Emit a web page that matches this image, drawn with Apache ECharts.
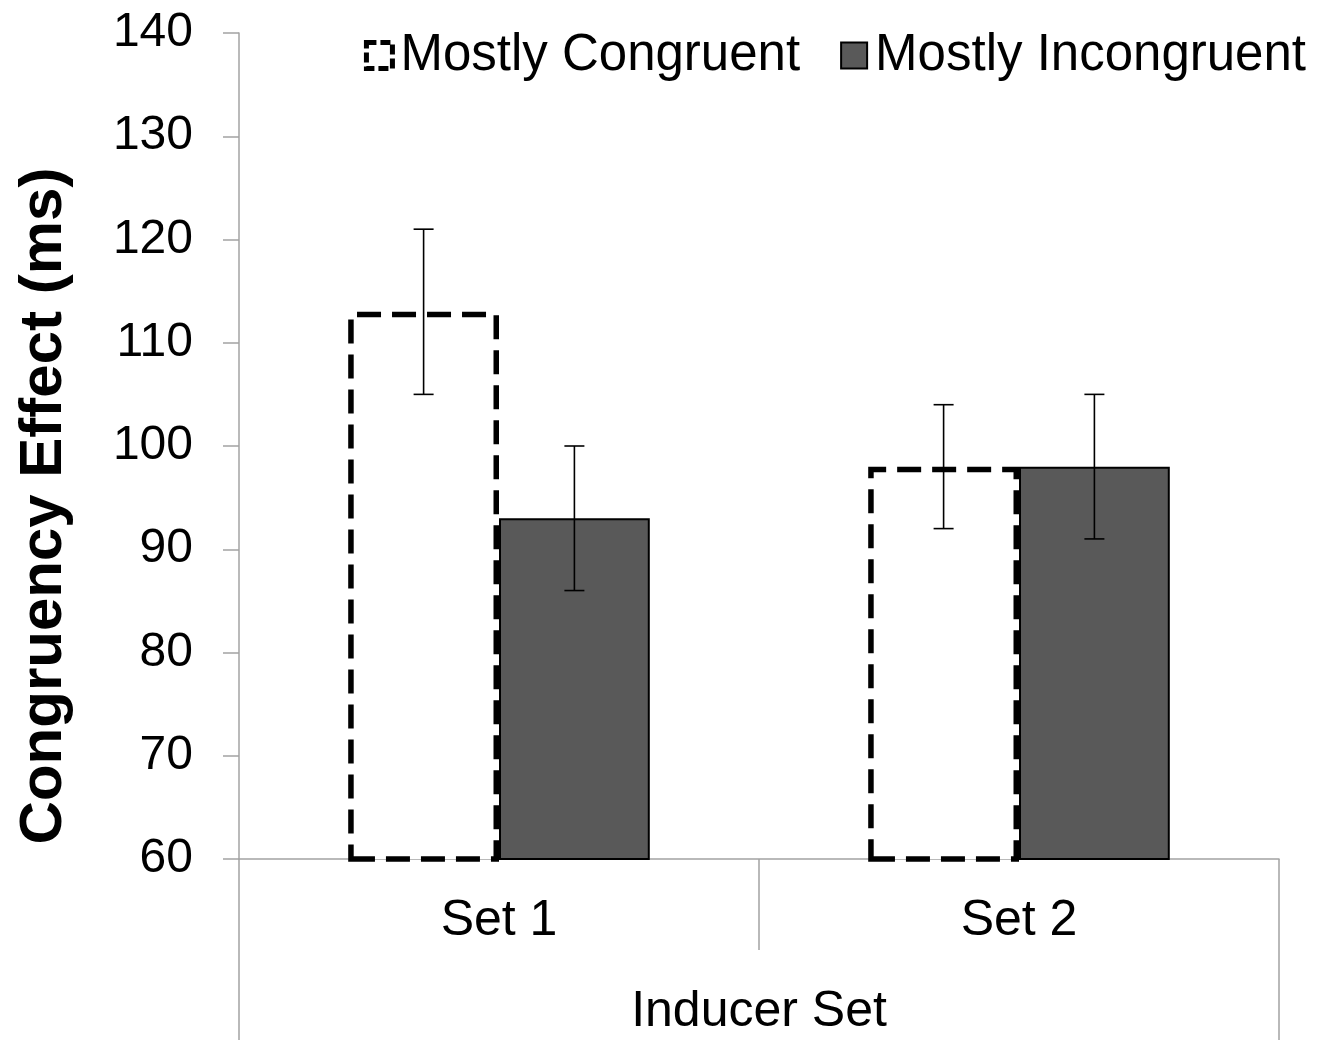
<!DOCTYPE html>
<html>
<head>
<meta charset="utf-8">
<script src="https://cdn.jsdelivr.net/npm/echarts@6/dist/echarts.min.js"></script>
<style>
    html, body { margin: 0; padding: 0; background: #fff; }
    #eCharts { width: 1331px; height: 1040px; }
</style>
</head>
<body>
<div id="eCharts"></div>
<script>
// data
var categories = ['Set 1', 'Set 2'];
var seriesNames = ['Mostly Congruent', 'Mostly Incongruent'];
var mostlyCongruent = [113, 98];
var mostlyIncongruent = [93, 98];
// error bar ends [low, high]
var errCongruent = [[105, 121], [92, 104]];
var errIncongruent = [[86, 100], [91, 105]];
var yTicks = { min: 60, max: 140, interval: 10 };

var FONT = 'Liberation Sans, Arial, sans-serif';
var AXIS_GRAY = '#a3a3a3';
var CAT_GAP = 0.42;

var myChart = echarts.init(document.getElementById('eCharts'));

// error bars, offset onto each bar of the group (seriesPos: 0 = left, 1 = right)
var errorSeries = function (errs, seriesPos) {
    return {
        type: 'custom',
        xAxisIndex: 0,
        silent: true,
        z: 10,
        data: errs.map(function (e, i) { return [i, e[0], e[1]]; }),
        renderItem: function (params, api) {
            var band = api.size([1, 0])[0];
            var barW = band * (1 - CAT_GAP) / 2;
            var dx = (seriesPos === 0 ? -0.5 : 0.5) * barW;
            var lo = api.coord([api.value(0), api.value(1)]);
            var hi = api.coord([api.value(0), api.value(2)]);
            var x = lo[0] + dx;
            var cap = 10;
            var style = { stroke: '#000', lineWidth: 1.6 };
            return {
                type: 'group',
                children: [
                    { type: 'line', shape: { x1: x, y1: lo[1], x2: x, y2: hi[1] }, style: style },
                    { type: 'line', shape: { x1: x - cap, y1: lo[1], x2: x + cap, y2: lo[1] }, style: style },
                    { type: 'line', shape: { x1: x - cap, y1: hi[1], x2: x + cap, y2: hi[1] }, style: style }
                ]
            };
        }
    };
};

var option = {
    animation: false,
    backgroundColor: '#fff',
    textStyle: { fontFamily: FONT, color: '#000' },
    legend: {
        top: 25,
        right: 20,
        itemWidth: 26,
        itemHeight: 26,
        itemGap: 40,
        textStyle: { fontSize: 51, fontFamily: FONT, color: '#000', padding: [0, 0, 0, 3] },
        data: [
            { name: seriesNames[0], icon: 'rect', itemStyle: { color: '#fff', borderColor: '#000', borderWidth: 5, borderType: [10, 4] } },
            { name: seriesNames[1], icon: 'rect', itemStyle: { color: '#595959', borderColor: '#000', borderWidth: 2 } }
        ]
    },
    grid: { left: 239, right: 52, top: 33, bottom: 181, containLabel: false },
    xAxis: [
        {
            type: 'category',
            data: categories,
            position: 'bottom',
            axisLine: { show: true, lineStyle: { color: AXIS_GRAY, width: 1.5 } },
            axisTick: { show: true, interval: 0, length: 91, lineStyle: { color: AXIS_GRAY, width: 1.5 } },
            axisLabel: { fontSize: 50, color: '#000', fontFamily: FONT, margin: 37 }
        },
        {
            type: 'category',
            data: ['Inducer Set'],
            position: 'bottom',
            offset: 0,
            axisLine: { show: false },
            axisTick: { show: true, interval: 0, length: 181, lineStyle: { color: AXIS_GRAY, width: 1.5 } },
            axisLabel: { fontSize: 50, color: '#000', fontFamily: FONT, margin: 128 }
        }
    ],
    yAxis: {
        type: 'value',
        min: yTicks.min,
        max: yTicks.max,
        interval: yTicks.interval,
        name: 'Congruency Effect (ms)',
        nameLocation: 'middle',
        nameRotate: 90,
        nameGap: 165,
        nameTextStyle: { fontSize: 60, fontWeight: 'bold', color: '#000', fontFamily: FONT, padding: [0, 120, 0, 0] },
        axisLine: { show: true, lineStyle: { color: AXIS_GRAY, width: 1.5 } },
        axisTick: { show: true, length: 16, lineStyle: { color: AXIS_GRAY, width: 1.5 } },
        axisLabel: { fontSize: 48, color: '#000', fontFamily: FONT, margin: 46 },
        splitLine: { show: false }
    },
    series: [
        {
            name: seriesNames[0],
            type: 'bar',
            xAxisIndex: 0,
            data: mostlyCongruent,
            barGap: '0%',
            barCategoryGap: (CAT_GAP * 100) + '%',
            itemStyle: { color: '#fff', borderColor: '#000', borderWidth: 5.5, borderType: [24, 11] }
        },
        {
            name: seriesNames[1],
            type: 'bar',
            xAxisIndex: 0,
            data: mostlyIncongruent,
            barGap: '0%',
            barCategoryGap: (CAT_GAP * 100) + '%',
            itemStyle: { color: '#595959', borderColor: '#000', borderWidth: 2 }
        },
        errorSeries(errCongruent, 0),
        errorSeries(errIncongruent, 1)
    ]
};

myChart.setOption(option);
</script>
</body>
</html>
